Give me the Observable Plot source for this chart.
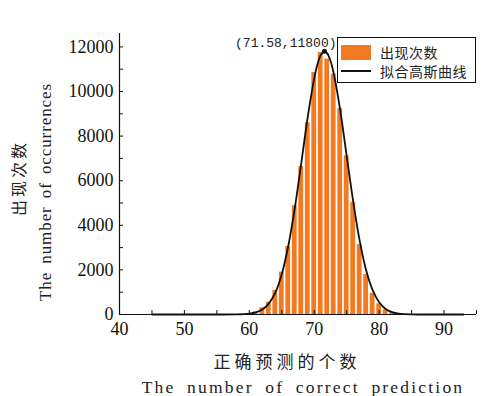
<!DOCTYPE html>
<html>
<head>
<meta charset="utf-8">
<script src="https://cdn.jsdelivr.net/npm/d3@7"></script>
<script src="https://cdn.jsdelivr.net/npm/@observablehq/plot@0.6"></script>
<style>
  html, body { margin: 0; padding: 0; background: #fff; }
  #wrap { position: relative; width: 483px; height: 396px; overflow: hidden; background: #fff; }
  #chart svg { display: block; background: linear-gradient(to right, #fff 58px, #f6f6f6 58px); }
  .t { position: absolute; white-space: nowrap; color: #222; line-height: 1; }
  #legend { position: absolute; left: 337px; top: 37px; width: 139px; height: 46px; box-sizing: border-box;
            border: 1px solid #111; background: #fff; }
  .lg-row { position: absolute; left: 3px; display: flex; align-items: center; }
  .lg-txt { font: 14px "Noto Sans CJK SC"; color: #222; margin-left: 9px; letter-spacing: 0.5px; }
</style>
</head>
<body>
<div id="wrap">
  <div id="chart"></div>
  <div id="legend">
    <div class="lg-row" style="top:4px;"><div style="width:30px;height:15px;background:#f47a22;"></div><span class="lg-txt" id="lg1"></span></div>
    <div class="lg-row" style="top:23px;"><div style="width:30px;height:0;border-top:2px solid #111;margin:7px 0;"></div><span class="lg-txt" id="lg2"></span></div>
  </div>
  <div class="t" id="ytitleCn" style="left:18px; top:178px; transform: translate(-50%,-50%) rotate(-90deg); font: 16px 'Noto Sans CJK SC'; letter-spacing:3px;"></div>
  <div class="t" id="ytitleEn" style="left:46px; top:192px; transform: translate(-50%,-50%) rotate(-90deg); font: 17px 'Liberation Serif'; letter-spacing:0.9px; word-spacing:3px;"></div>
  <div class="t" id="xtitleCn" style="left:287px; top:360px; transform: translate(-50%,-50%); font: 17px 'Noto Sans CJK SC'; letter-spacing:4px;"></div>
  <div class="t" id="xtitleEn" style="left:303px; top:387px; transform: translate(-50%,-50%); font: 17.5px 'Liberation Serif'; letter-spacing:2.2px; word-spacing:5px;"></div>
</div>
<script>
// ---- data ----
const barX =      [60, 61, 62, 63, 64, 65, 66, 67, 68, 69, 70, 71, 72, 73, 74, 75, 76, 77, 78, 79, 80, 81, 82, 83];
const barCount =  [40, 120, 300, 550, 1080, 1900, 3050, 4880, 6630, 8600, 10850, 11750, 11450, 10780, 9230, 7120, 5030, 3130, 1790, 950, 480, 210, 90, 30];

const fitX = [45, 50, 55, 58, 59, 60, 61, 62, 63, 64, 65, 66, 67, 68, 69, 70, 70.5, 71, 71.58, 72, 72.5, 73, 74, 75, 76, 77, 78, 79, 80, 81, 82, 83, 84, 85, 86, 88, 90, 93];
const fitY = [0, 0, 0, 3, 12, 36, 93, 223, 490, 980, 1810, 3070, 4760, 6780, 8850, 10590, 11220, 11630, 11800, 11710, 11380, 10820, 9160, 7110, 5070, 3310, 1980, 1090, 550, 250, 110, 40, 15, 5, 1, 0, 0, 0];

const peakX = 71.58, peakY = 11800;
const peakLabel = "(71.58,11800)";

const xTickValues = [40, 50, 60, 70, 80, 90];
const xMinorTicks = [40, 45, 50, 55, 60, 65, 70, 75, 80, 85, 90, 95];
const yTickValues = [0, 2000, 4000, 6000, 8000, 10000, 12000];
const yMinorTicks = [0, 1000, 2000, 3000, 4000, 5000, 6000, 7000, 8000, 9000, 10000, 11000, 12000];

const legendLabels = ["出现次数", "拟合高斯曲线"];
const yTitleCn = "出现次数", yTitleEn = "The number of occurrences";
const xTitleCn = "正确预测的个数", xTitleEn = "The number of correct prediction";

// ---- build ----
const bars = barX.map((x, i) => ({x, count: barCount[i]}));
const fit = fitX.map((x, i) => ({x, y: fitY[i]}));
const peak = [{x: peakX, y: peakY, label: peakLabel}];

const chart = Plot.plot({
  width: 483,
  height: 345,
  marginLeft: 119,
  marginRight: 7,
  marginTop: 33,
  marginBottom: 31,
  style: {background: "transparent", fontFamily: "Liberation Serif", fontSize: "18px", color: "#111"},
  x: {domain: [40, 95]},
  y: {domain: [0, 12600]},
  marks: [
    Plot.rectY(bars, {x1: d => d.x - 0.37, x2: d => d.x + 0.37, y: "count", fill: "#f47a22"}),
    Plot.line(fit, {x: "x", y: "y", stroke: "#111", strokeWidth: 1.8, curve: "catmull-rom"}),
    Plot.dot(peak, {x: "x", y: "y", r: 2.5, fill: "#111", stroke: null}),
    Plot.text(peak, {x: "x", y: "y", text: "label", textAnchor: "end", dx: 12, dy: -9,
                     fontFamily: "Liberation Mono", fontSize: 13, fill: "#222"}),
    Plot.ruleX([40], {stroke: "#111", strokeWidth: 1.2}),
    Plot.ruleY([0], {stroke: "#111", strokeWidth: 1.2}),
    Plot.axisY({ticks: yTickValues, tickSize: 0, tickPadding: 6, tickFormat: d3.format("d"), label: null}),
    Plot.axisY({ticks: yMinorTicks, tickSize: -4, text: null, label: null}),
    Plot.axisX({ticks: xTickValues, tickSize: 0, tickPadding: 8, tickFormat: d3.format("d"), label: null}),
    Plot.axisX({ticks: xMinorTicks, tickSize: -4, text: null, label: null})
  ]
});
document.getElementById("chart").appendChild(chart);
document.getElementById("lg1").textContent = legendLabels[0];
document.getElementById("lg2").textContent = legendLabels[1];
document.getElementById("ytitleCn").textContent = yTitleCn;
document.getElementById("ytitleEn").textContent = yTitleEn;
document.getElementById("xtitleCn").textContent = xTitleCn;
document.getElementById("xtitleEn").textContent = xTitleEn;
</script>
</body>
</html>
